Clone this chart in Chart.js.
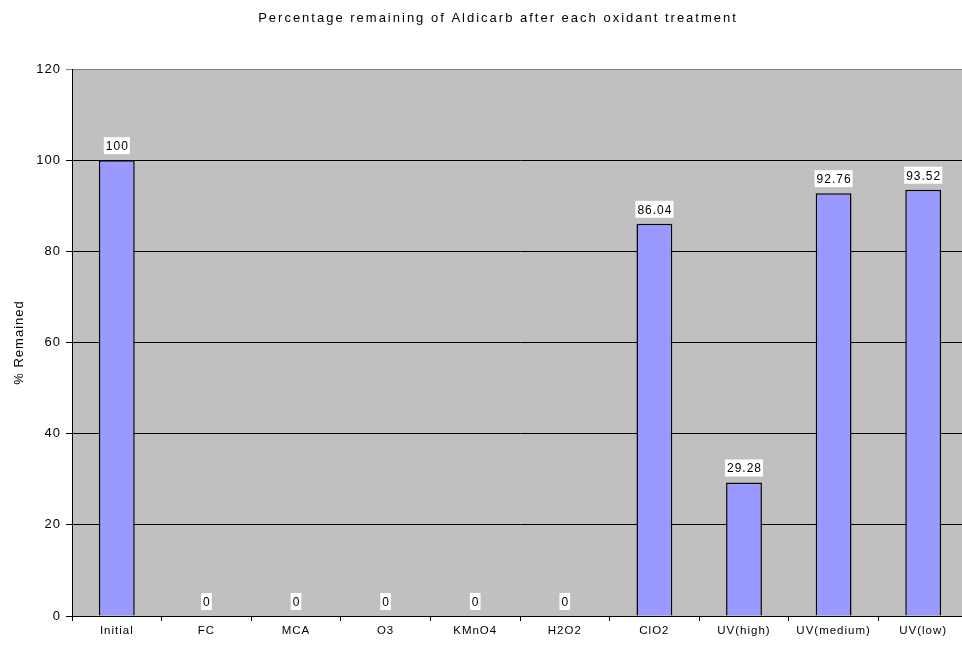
<!DOCTYPE html>
<html>
<head>
<meta charset="utf-8">
<script src="https://cdn.jsdelivr.net/npm/chart.js@4.4.0/dist/chart.umd.min.js"></script>
<style>
  body { margin: 0; background: #fff; overflow: hidden; }
  #wrap { width: 962px; height: 647px; overflow: hidden; }
</style>
</head>
<body>
<div id="wrap"><canvas id="chart" width="996" height="647"></canvas></div>
<script>
const categories = ["Initial", "FC", "MCA", "O3", "KMnO4", "H2O2", "ClO2", "UV(high)", "UV(medium)", "UV(low)"];
const remained = [100, 0, 0, 0, 0, 0, 86.04, 29.28, 92.76, 93.52];
const yTicks = [0, 20, 40, 60, 80, 100, 120];
const chartTitle = "Percentage remaining of Aldicarb after each oxidant treatment";

const FONT = "'Liberation Sans', Arial, sans-serif";

// grey plot area + wider text spacing like the old excel render
const plotBg = {
  id: "plotBg",
  beforeDraw(chart) {
    const a = chart.chartArea;
    const ctx = chart.ctx;
    ctx.letterSpacing = "1px";
    ctx.save();
    ctx.fillStyle = "#c0c0c0";
    ctx.fillRect(a.left, a.top, a.right - a.left, a.bottom - a.top);
    ctx.restore();
  },
  afterDraw(chart) {
    const ctx = chart.ctx;
    ctx.save();
    ctx.letterSpacing = "2px";
    ctx.font = "13px " + FONT;
    ctx.fillStyle = "#000";
    ctx.textAlign = "center";
    ctx.textBaseline = "middle";
    ctx.fillText(chartTitle, 498, 18);
    ctx.restore();
  }
};

// value labels on white boxes
const valueLabels = {
  id: "valueLabels",
  afterDatasetsDraw(chart) {
    const ctx = chart.ctx;
    const meta = chart.getDatasetMeta(0);
    ctx.save();
    ctx.font = "12px " + FONT;
    ctx.textAlign = "center";
    ctx.textBaseline = "middle";
    meta.data.forEach(function(bar, i) {
      const txt = String(remained[i]);
      const w = ctx.measureText(txt).width + 3;
      const h = 17;
      const bottom = bar.y - 6;
      ctx.fillStyle = "#fff";
      ctx.fillRect(bar.x - w / 2, bottom - h, w, h);
      ctx.fillStyle = "#000";
      ctx.fillText(txt, bar.x + 0.5, bottom - h / 2 + 1);
    });
    ctx.restore();
  }
};

new Chart(document.getElementById("chart"), {
  type: "bar",
  data: {
    labels: categories,
    datasets: [{
      data: remained,
      backgroundColor: "#9999ff",
      borderColor: "#000",
      borderWidth: function(c) { return c.raw === 0 ? 0 : 1.5; },
      borderSkipped: "bottom",
      categoryPercentage: 1,
      barPercentage: 0.4
    }]
  },
  options: {
    responsive: false,
    animation: false,
    layout: { padding: { left: 0, right: 28, top: 69, bottom: 0 } },
    plugins: {
      legend: { display: false },
      tooltip: { enabled: false },
      title: { display: false }
    },
    scales: {
      x: {
        afterFit: function(s) { s.height = 31; },
        grid: {
          offset: true,
          drawOnChartArea: false,
          color: "#000",
          tickLength: 5
        },
        border: { color: "#000", width: 1 },
        ticks: {
          color: "#000",
          padding: 3,
          font: { family: FONT, size: 11.5 }
        }
      },
      y: {
        min: 0,
        max: 120,
        afterFit: function(s) { s.width = 72; },
        afterBuildTicks: function(s) { s.ticks = yTicks.map(function(v) { return { value: v }; }); },
        grid: {
          color: function(c) { return c.tick && c.tick.value === 120 ? "#808080" : "#000"; },
          tickLength: 6
        },
        border: { color: "#000", width: 1 },
        ticks: {
          color: "#000",
          padding: 5,
          font: { family: FONT, size: 13 }
        },
        title: {
          display: true,
          text: "% Remained",
          color: "#000",
          padding: { top: 12, bottom: 0 },
          font: { family: FONT, size: 13 }
        }
      }
    }
  },
  plugins: [plotBg, valueLabels]
});
</script>
</body>
</html>
